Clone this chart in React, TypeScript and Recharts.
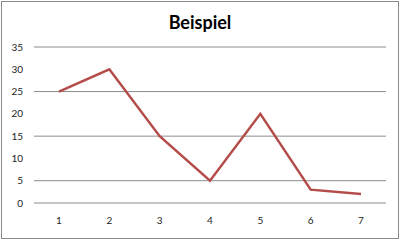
import { LineChart, Line, XAxis, YAxis, CartesianGrid } from 'recharts'

const categories = ['1', '2', '3', '4', '5', '6', '7']
const werte = [25, 30, 15, 5, 20, 3, 2]
const yTicks = [0, 5, 10, 15, 20, 25, 30, 35]

const data = categories.map((name, i) => ({ name, wert: werte[i] }))

const tickStyle = { fontFamily: 'Lato, sans-serif', fontSize: 10, fill: '#222' }

export default function App() {
  return (
    <div style={{ position: 'absolute', left: 0, top: 0, width: 400, height: 241, background: '#fff' }}>
      <div
        style={{
          position: 'absolute',
          left: 1,
          top: 1,
          width: 396,
          height: 236,
          border: '1px solid #8a8a8a',
        }}
      />
      <div
        style={{
          position: 'absolute',
          left: 0,
          top: 10,
          width: 400,
          height: 24,
          lineHeight: '24px',
          textAlign: 'center',
          fontFamily: 'Lato, sans-serif',
          fontWeight: 700,
          fontSize: 18,
          color: '#000',
        }}
      >
        Beispiel
      </div>
      <LineChart
        width={400}
        height={241}
        data={data}
        margin={{ top: 47, right: 14, bottom: 0, left: 0 }}
        style={{ position: 'absolute', left: 0, top: 0 }}
      >
        <CartesianGrid vertical={false} stroke="#8c8c8c" />
        <XAxis
          dataKey="name"
          height={38}
          axisLine={false}
          tickLine={false}
          tickSize={6}
          tickMargin={8}
          padding={{ left: 25, right: 25 }}
          tick={tickStyle}
        />
        <YAxis
          width={34}
          domain={[0, 35]}
          ticks={yTicks}
          axisLine={false}
          tickLine={false}
          tickSize={6}
          tickMargin={5}
          tick={tickStyle}
        />
        <Line
          type="linear"
          dataKey="wert"
          stroke="#b44c4a"
          strokeWidth={2.5}
          dot={false}
          isAnimationActive={false}
        />
      </LineChart>
    </div>
  )
}
